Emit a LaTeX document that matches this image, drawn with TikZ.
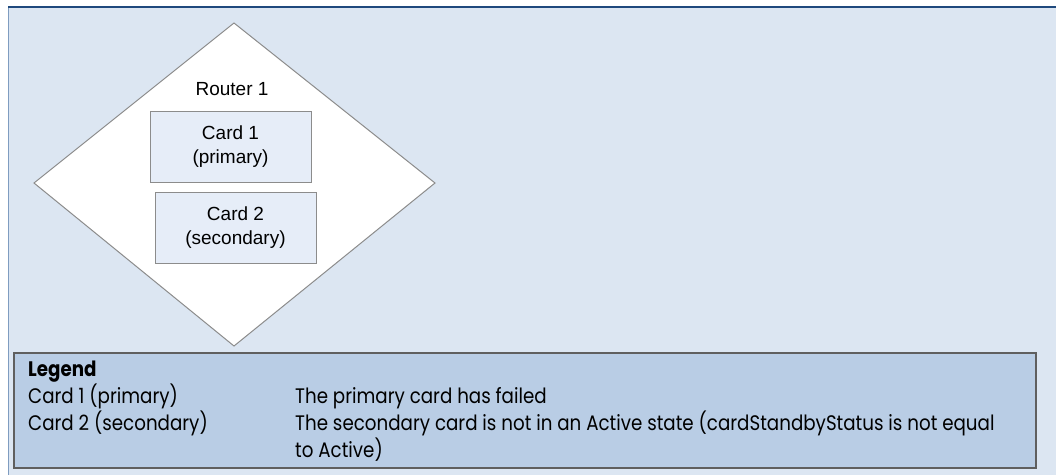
\documentclass[tikz,border=0pt]{standalone}
\usepackage{fontspec}
\setmainfont{Liberation Sans}
\newfontfamily\legendfont[FakeStretch=0.87]{Poppins}
\usetikzlibrary{shapes.geometric}
\definecolor{bgblue}{HTML}{DCE6F2}
\definecolor{topblue}{HTML}{1F497D}
\definecolor{leftblue}{HTML}{7F9CC0}
\definecolor{cardfill}{HTML}{E6EDF8}
\definecolor{cardline}{HTML}{8C8C8C}
\definecolor{legfill}{HTML}{B9CDE5}
\definecolor{legline}{HTML}{5F5F5F}
\tikzset{
  cardbox/.style={draw=cardline, fill=cardfill, line width=1pt, rectangle,
    minimum width=161pt, minimum height=71pt, inner sep=0pt, align=center,
    font=\fontsize{19}{24}\selectfont},
  routershape/.style={draw=cardline, fill=white, line width=1pt},
  legtext/.style={anchor=base west, inner sep=0pt, font=\legendfont\fontsize{21}{27}\selectfont}
}
\begin{document}
\begin{tikzpicture}[x=1pt,y=-1pt]
\useasboundingbox (0,0) rectangle (1056,475);
\fill[bgblue] (8,7) rectangle (1056,475);
\draw[leftblue, line width=1pt] (8.5,7) -- (8.5,475);
\draw[topblue, line width=1.6pt] (8,7) -- (1056,7);
% router diamond
\coordinate (dtop) at (234,23);
\coordinate (dright) at (435,183);
\coordinate (dbottom) at (234,346);
\coordinate (dleft) at (34,183);
\draw[routershape] (dtop) -- (dright) -- (dbottom) -- (dleft) -- cycle;
\node[anchor=base, inner sep=0pt, font=\fontsize{19}{24}\selectfont] (routerlabel) at (232,95) {Router 1};
\node[cardbox] (card1) at (230.5,146.5) {Card 1\\(primary)};
\node[cardbox] (card2) at (235.5,228) {Card 2\\(secondary)};
% legend
\node[draw=legline, fill=legfill, line width=1.5pt, rectangle, inner sep=0pt,
  minimum width=1022pt, minimum height=115pt, anchor=north west] (legend) at (13,352) {};
\node[legtext, font=\legendfont\bfseries\fontsize{21}{27}\selectfont] (legtitle) at (28,376) {Legend};
\node[legtext] (leg1a) at (28,403) {Card 1 (primary)};
\node[legtext] (leg1b) at (295,403) {The primary card has failed};
\node[legtext] (leg2a) at (28,430) {Card 2 (secondary)};
\node[legtext] (leg2b) at (295,430) {The secondary card is not in an Active state (cardStandbyStatus is not equal};
\node[legtext] (leg2c) at (295,457) {to Active)};
\end{tikzpicture}
\end{document}
